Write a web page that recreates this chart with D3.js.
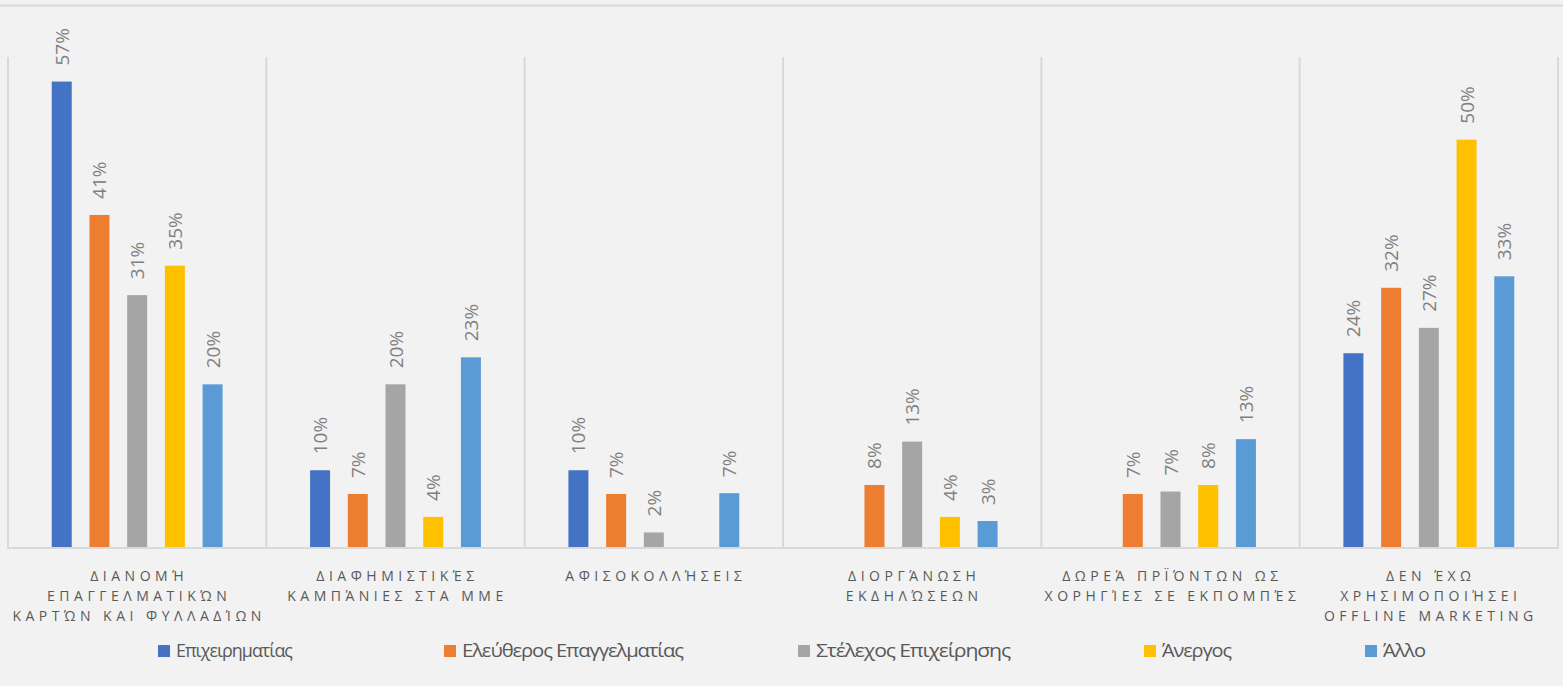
<!DOCTYPE html>
<html>
<head>
<meta charset="utf-8">
<script src="https://cdn.jsdelivr.net/npm/d3@7"></script>
<style>
  html, body { margin: 0; padding: 0; background: #f2f2f2; }
  svg { display: block; }
</style>
</head>
<body>
<div id="chart-container"></div>
<script>
// categories (each line of the label)
const categories = [
  ["ΔΙΑΝΟΜΉ", "ΕΠΑΓΓΕΛΜΑΤΙΚΏΝ", "ΚΑΡΤΏΝ ΚΑΙ ΦΥΛΛΑΔΊΩΝ"],
  ["ΔΙΑΦΗΜΙΣΤΙΚΈΣ", "ΚΑΜΠΆΝΙΕΣ ΣΤΑ ΜΜΕ"],
  ["ΑΦΙΣΟΚΟΛΛΉΣΕΙΣ"],
  ["ΔΙΟΡΓΆΝΩΣΗ", "ΕΚΔΗΛΏΣΕΩΝ"],
  ["ΔΩΡΕΆ ΠΡΪΌΝΤΩΝ ΩΣ", "ΧΟΡΗΓΊΕΣ ΣΕ ΕΚΠΟΜΠΈΣ"],
  ["ΔΕΝ ΈΧΩ", "ΧΡΗΣΙΜΟΠΟΙΉΣΕΙ", "OFFLINE MARKETING"]
];

const seriesNames = ["Επιχειρηματίας", "Ελεύθερος Επαγγελματίας", "Στέλεχος Επιχείρησης", "Άνεργος", "Άλλο"];
const seriesColors = ["#4472c4", "#ed7d31", "#a5a5a5", "#ffc000", "#5b9bd5"];

// values in %, one array per series (null = no bar)
const epixeirimatias   = [57.0, 9.5, 9.5, null, null, 23.8];
const eleftheros       = [40.7, 6.6, 6.6, 7.7, 6.6, 31.8];
const stelexos         = [30.9, 20.0, 1.9, 13.0, 6.9, 26.9];
const anergos          = [34.5, 3.8, null, 3.8, 7.7, 49.9];
const allo             = [20.0, 23.3, 6.7, 3.3, 13.3, 33.2];
const seriesValues = [epixeirimatias, eleftheros, stelexos, anergos, allo];

const yMax = 60;

const width = 1563, height = 686;
const plot = { left: 8, right: 1558, top: 57, bottom: 548 };

const svg = d3.select("#chart-container")
  .append("svg")
  .attr("width", width)
  .attr("height", height);

svg.append("rect").attr("width", width).attr("height", height).attr("fill", "#f2f2f2");

// top border line
svg.append("line")
  .attr("x1", 0).attr("x2", width)
  .attr("y1", 5.5).attr("y2", 5.5)
  .attr("stroke", "#d9d9d9").attr("stroke-width", 2);

const x0 = d3.scaleBand()
  .domain(d3.range(categories.length))
  .range([plot.left, plot.right]);

const x1 = d3.scaleBand()
  .domain(d3.range(seriesNames.length))
  .range([0, x0.bandwidth()])
  .paddingInner(0.47)
  .paddingOuter(1.16);

const y = d3.scaleLinear()
  .domain([0, yMax])
  .range([plot.bottom, plot.top]);

// vertical separators between categories
const seps = d3.range(categories.length + 1).map(i => plot.left + i * x0.bandwidth());
svg.selectAll("line.sep")
  .data(seps)
  .join("line")
  .attr("class", "sep")
  .attr("x1", d => d).attr("x2", d => d)
  .attr("y1", plot.top).attr("y2", plot.bottom)
  .attr("stroke", "#d9d9d9").attr("stroke-width", 2);

// bars
const rows = [];
seriesValues.forEach((vals, s) => {
  vals.forEach((v, c) => {
    if (v !== null) rows.push({ s, c, v });
  });
});

svg.selectAll("rect.bar")
  .data(rows)
  .join("rect")
  .attr("class", "bar")
  .attr("x", d => x0(d.c) + x1(d.s))
  .attr("y", d => y(d.v))
  .attr("width", x1.bandwidth())
  .attr("height", d => y(0) - y(d.v))
  .attr("fill", d => seriesColors[d.s]);

// value labels (rotated)
svg.selectAll("text.val")
  .data(rows)
  .join("text")
  .attr("class", "val")
  .attr("transform", d => `translate(${x0(d.c) + x1(d.s) + x1.bandwidth() / 2 + 7}, ${y(d.v) - 16}) rotate(-90)`)
  .attr("text-anchor", "start")
  .style("font-family", "'Open Sans', sans-serif")
  .style("font-size", "19px")
  .style("fill", "#808080")
  .text(d => Math.round(d.v) + "%");

// baseline
svg.append("line")
  .attr("x1", plot.left - 1).attr("x2", plot.right + 1)
  .attr("y1", plot.bottom).attr("y2", plot.bottom)
  .attr("stroke", "#d9d9d9").attr("stroke-width", 2);

// category labels
const catG = svg.selectAll("text.cat")
  .data(categories)
  .join("text")
  .attr("class", "cat")
  .attr("text-anchor", "middle")
  .style("font-family", "'Open Sans', sans-serif")
  .style("font-size", "14px")
  .style("letter-spacing", "4.5px")
  .style("fill", "#595959");

catG.selectAll("tspan")
  .data((d, i) => d.map(line => ({ line, i })))
  .join("tspan")
  .attr("x", d => x0(d.i) + x0.bandwidth() / 2 + 2)
  .attr("y", (d, j) => 581 + j * 20)
  .text(d => d.line);

// legend
const legendX = [158, 444, 798, 1144, 1365];
const legendW = [116, 221, 194, 69, 42];
const legend = svg.selectAll("g.leg")
  .data(seriesNames)
  .join("g")
  .attr("class", "leg")
  .attr("transform", (d, i) => `translate(${legendX[i]}, 651)`);

legend.append("rect")
  .attr("x", 0).attr("y", -6)
  .attr("width", 12).attr("height", 12)
  .attr("fill", (d, i) => seriesColors[i]);

legend.append("text")
  .attr("x", 18).attr("y", 6)
  .attr("textLength", (d, i) => legendW[i])
  .attr("lengthAdjust", "spacingAndGlyphs")
  .style("font-family", "'Open Sans', sans-serif")
  .style("font-size", "18px")
  .style("letter-spacing", "-1px")
  .style("fill", "#595959")
  .text(d => d);
</script>
</body>
</html>
